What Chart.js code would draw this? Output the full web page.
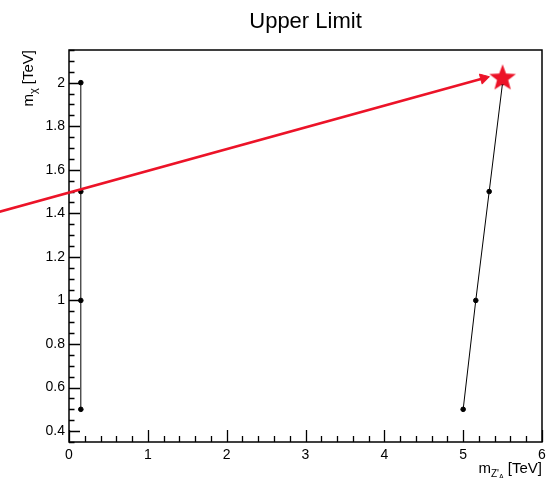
<!DOCTYPE html>
<html>
<head>
<meta charset="utf-8">
<script src="https://cdn.jsdelivr.net/npm/chart.js@4.4.1/dist/chart.umd.min.js"></script>
<style>
  html, body { margin: 0; padding: 0; background: #fff; }
  canvas { display: block; }
</style>
</head>
<body>
<canvas id="limit" width="546" height="478"></canvas>
<script>
// values, everything in TeV
const leftMZ = [0.15, 0.15, 0.15, 0.15];
const leftMChi = [0.5, 1.0, 1.5, 2.0];
const rightMZ = [5.0, 5.16, 5.33, 5.5];
const rightMChi = [0.5, 1.0, 1.5, 2.0];
const arrowMZ = [-0.9, 5.26];
const arrowMChi = [1.405, 2.02];
const starMZ = [5.5];
const starMChi = [2.02];
const xTicks = [0, 1, 2, 3, 4, 5, 6];
const yTicks = [0.4, 0.6, 0.8, 1, 1.2, 1.4, 1.6, 1.8, 2];

const FONT = "'Liberation Sans', Arial, Helvetica, sans-serif";
const RED = "#ec1328";

const pts = (xs, ys) => xs.map((x, i) => ({ x: x, y: ys[i] }));

// filled five point star, used as a point style
function makeStar(r, color) {
  const c = document.createElement("canvas");
  c.width = c.height = r * 2 + 2;
  const g = c.getContext("2d");
  g.fillStyle = color;
  g.beginPath();
  for (let i = 0; i < 10; i++) {
    const rad = i % 2 ? r * 0.42 : r;
    const a = -Math.PI / 2 + i * Math.PI / 5;
    g.lineTo(r + 1 + rad * Math.cos(a), r + 1 + rad * Math.sin(a));
  }
  g.closePath();
  g.fill();
  return c;
}

// ROOT style frame with ticks pointing inwards
const rootFrame = {
  id: "rootFrame",
  beforeDatasetsDraw(chart) {
    const { ctx, chartArea: a, scales: { x, y } } = chart;
    ctx.save();
    ctx.strokeStyle = "#000";
    ctx.lineWidth = 1.5;
    ctx.strokeRect(a.left, a.top, a.right - a.left, a.bottom - a.top);
    ctx.beginPath();
    for (let k = Math.ceil(x.min / 0.2 - 1e-6); k * 0.2 <= x.max + 1e-6; k++) {
      const v = k * 0.2;
      const len = Math.abs(v - Math.round(v)) < 1e-6 ? 12 : 6;
      const px = Math.round(x.getPixelForValue(v)) + 0.5;
      ctx.moveTo(px, a.bottom);
      ctx.lineTo(px, a.bottom - len);
    }
    for (let k = Math.ceil(y.min / 0.05 - 1e-6); k * 0.05 <= y.max + 1e-6; k++) {
      const v = k * 0.05;
      const len = Math.abs(v / 0.2 - Math.round(v / 0.2)) < 1e-6 ? 11 : 5.5;
      const py = Math.round(y.getPixelForValue(v)) + 0.5;
      ctx.moveTo(a.left, py);
      ctx.lineTo(a.left + len, py);
    }
    ctx.lineWidth = 1.3;
    ctx.stroke();
    ctx.restore();
  },
  afterDraw(chart) {
    const { ctx, chartArea: a } = chart;
    ctx.save();
    ctx.fillStyle = "#000";
    ctx.textBaseline = "alphabetic";

    // title, centred over the frame
    ctx.font = "22px " + FONT;
    ctx.textAlign = "center";
    ctx.fillText("Upper Limit", (a.left + a.right) / 2, 28);

    ctx.textAlign = "left";
    // pieces: [text, size, drop]
    const drawParts = (parts, xEnd, yBase) => {
      let w = 0;
      parts.forEach(p => { ctx.font = p[1] + "px " + FONT; w += ctx.measureText(p[0]).width; });
      let cx = xEnd - w;
      parts.forEach(p => {
        ctx.font = p[1] + "px " + FONT;
        ctx.fillText(p[0], cx, yBase + p[2]);
        cx += ctx.measureText(p[0]).width;
      });
    };

    // x title: m_{Z'_A} [TeV]
    drawParts([["m", 15, 0], ["Z'", 10, 4], ["A", 7, 6], [" [TeV]", 15, 0]], a.right, 473);

    // y title: m_chi [TeV], rotated, ending at top of frame
    ctx.translate(33, a.top);
    ctx.rotate(-Math.PI / 2);
    drawParts([["m", 15, 0], ["\u03c7", 11, 4], [" [TeV]", 15, 0]], 0, 0);
    ctx.restore();
  }
};

const limitConfig = {
  type: "line",
  data: {
    datasets: [
      {
        label: "best limit",
        data: pts(starMZ, starMChi),
        showLine: false,
        pointStyle: makeStar(14, RED),
        pointRadius: 14,
      },
      {
        label: "arrow",
        data: pts(arrowMZ, arrowMChi),
        borderColor: RED,
        borderWidth: 2.6,
        pointStyle: "triangle",
        pointRadius: [0, 6],
        pointBackgroundColor: RED,
        pointBorderColor: RED,
        pointBorderWidth: 1,
        pointRotation: (c) => {
          const { x, y } = c.chart.scales;
          const dx = x.getPixelForValue(arrowMZ[1]) - x.getPixelForValue(arrowMZ[0]);
          const dy = y.getPixelForValue(arrowMChi[1]) - y.getPixelForValue(arrowMChi[0]);
          return Math.atan2(dy, dx) * 180 / Math.PI + 90;
        },
        clip: false,
      },
      {
        label: "high mZ",
        data: pts(rightMZ, rightMChi),
        borderColor: "#000",
        borderWidth: 1,
        pointRadius: 2.3,
        pointBackgroundColor: "#000",
        pointBorderColor: "#000",
        pointBorderWidth: 1,
      },
      {
        label: "low mZ",
        data: pts(leftMZ, leftMChi),
        borderColor: "#000",
        borderWidth: 1,
        pointRadius: 2.3,
        pointBackgroundColor: "#000",
        pointBorderColor: "#000",
        pointBorderWidth: 1,
      },
    ],
  },
  options: {
    responsive: false,
    animation: false,
    events: [],
    layout: { autoPadding: false, padding: { top: 50, right: 4, left: 0, bottom: 0 } },
    plugins: {
      legend: { display: false },
      title: { display: false },
      tooltip: { enabled: false },
    },
    scales: {
      x: {
        type: "linear",
        min: 0,
        max: 6,
        grid: { display: false, drawTicks: false },
        border: { display: false },
        ticks: {
          color: "#000",
          padding: 5,
          font: { family: FONT, size: 14 },
          callback: (v) => String(v),
        },
        afterBuildTicks: (s) => { s.ticks = xTicks.map(v => ({ value: v })); },
        afterFit: (s) => { s.height = 36; s.paddingLeft = 0; s.paddingRight = 0; },
      },
      y: {
        type: "linear",
        min: 0.35,
        max: 2.15,
        grid: { display: false, drawTicks: false },
        border: { display: false },
        ticks: {
          color: "#000",
          padding: 4,
          font: { family: FONT, size: 14 },
          callback: (v) => String(Math.round(v * 10) / 10),
        },
        afterBuildTicks: (s) => { s.ticks = yTicks.map(v => ({ value: v })); },
        afterFit: (s) => { s.width = 69; s.paddingTop = 0; s.paddingBottom = 0; },
      },
    },
  },
  plugins: [rootFrame],
};

window.limitChart = new Chart(document.getElementById("limit"), limitConfig);
</script>
</body>
</html>
